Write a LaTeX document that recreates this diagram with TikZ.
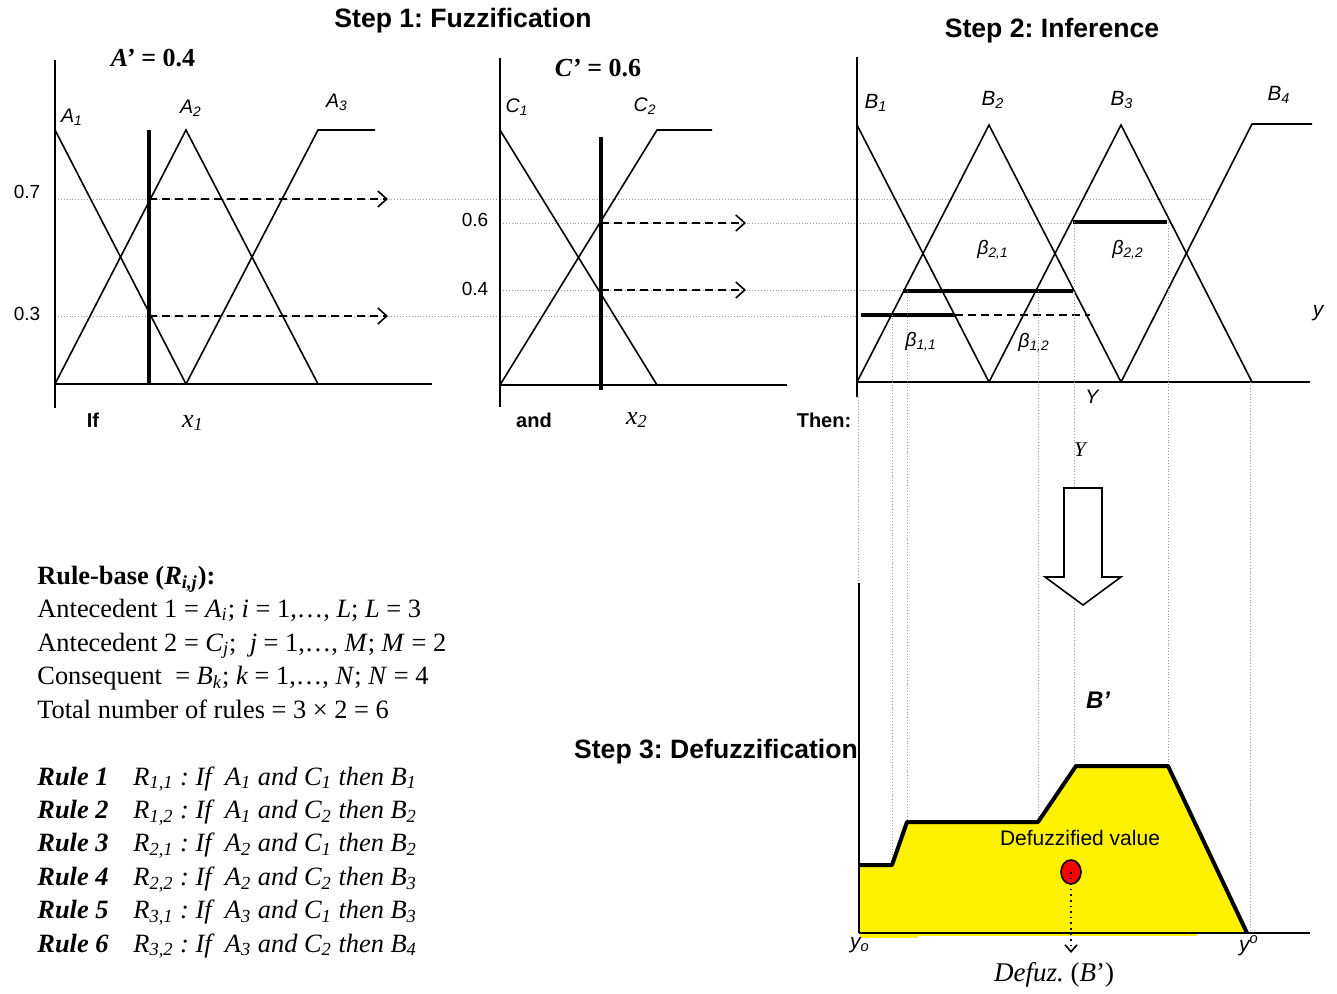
\documentclass[tikz,border=0pt]{standalone}
\usepackage{fontspec}
\setmainfont{Liberation Serif}
\setsansfont{Liberation Sans}
\usetikzlibrary{arrows.meta, shapes.geometric}
\newcommand{\sbs}[1]{\textsubscript{#1}}
\frenchspacing

\begin{document}
\begin{tikzpicture}[x=0.5pt, y=-0.5pt,
      every node/.style={inner sep=0pt},
      mf/.style={line width=0.8pt},
      axisline/.style={line width=1pt},
      cutline/.style={line width=2pt},
      guide/.style={draw=gray!80, densely dotted, line width=0.45pt},
      fire/.style={dash pattern=on 4pt off 2.5pt, line width=0.8pt,
                   -{Straight Barb[length=4.5pt, width=8pt, line width=0.8pt]}},
      steptitle/.style={font=\sffamily\bfseries\fontsize{13.3}{16}\selectfont},
      setlabel/.style={font=\sffamily\itshape\fontsize{9.8}{11}\selectfont},
      ticklabel/.style={font=\sffamily\fontsize{9.5}{11}\selectfont},
      wordlabel/.style={font=\sffamily\bfseries\fontsize{10}{12}\selectfont},
      varlabel/.style={font=\itshape\fontsize{13}{15}\selectfont},
      inlabel/.style={font=\bfseries\fontsize{13}{15}\selectfont},
      rulebody/.style={font=\fontsize{13.2}{16}\selectfont, anchor=base west}]
    \useasboundingbox (0,0) rectangle (1337,994);

    % guide lines carrying the membership degrees across
    \draw[guide] (55,199) -- (1212,199);
    \draw[guide] (55,316) -- (858,316);
    \draw[guide] (500,223) -- (1073,223);
    \draw[guide] (500,290) -- (903,290);

    % antecedent 1
    \draw[axisline] (55,60) -- (55,408);
    \draw[axisline] (55,384) -- (432,384);
    \draw[mf] (55,130) -- (186,384);
    \draw[mf] (55,384) -- (186,130) -- (318,384);
    \draw[mf] (186,384) -- (318,130) -- (375,130);
    \draw[cutline] (149,130) -- (149,384);
    \draw[fire] (149,199) -- (388,199);
    \draw[fire] (149,316) -- (388,316);

    % antecedent 2
    \draw[axisline] (500,58) -- (500,407);
    \draw[axisline] (500,385) -- (787,385);
    \draw[mf] (500,130) -- (657,385);
    \draw[mf] (500,385) -- (657,130) -- (712,130);
    \draw[cutline] (601,137) -- (601,390);
    \draw[fire] (601,223) -- (746,223);
    \draw[fire] (601,290) -- (746,290);

    % consequent
    \draw[axisline] (857,57) -- (857,397);
    \draw[axisline] (857,382) -- (1310,382);
    \draw[mf] (857,125) -- (989,382);
    \draw[mf] (857,382) -- (989,125) -- (1121,382);
    \draw[mf] (989,382) -- (1121,125) -- (1252,382);
    \draw[mf] (1121,382) -- (1252,124) -- (1312,124);
    \draw[cutline] (861,315) -- (955,315);
    \draw[dash pattern=on 4pt off 2.5pt, line width=0.8pt] (955,315) -- (1090,315);
    \draw[cutline] (903,291) -- (1073,291);
    \draw[cutline] (1073,222) -- (1167,222);

    % projections down to the aggregated set
    \draw[guide] (858,397) -- (858,583);
    \draw[guide] (892,315) -- (892,865);
    \draw[guide] (907,291) -- (907,822);
    \draw[guide] (1038,291) -- (1038,822);
    \draw[guide] (1074,222) -- (1074,766);
    \draw[guide] (1168,222) -- (1168,766);
    \draw[guide] (1250,382) -- (1250,933);

    % hollow arrow
    \draw[line width=0.8pt, fill=white] (1064,488) -- (1102,488) -- (1102,577) -- (1121,577)
      -- (1083,605) -- (1045,577) -- (1064,577) -- cycle;

    % aggregated output B'
    \fill[yellow] (859,933) -- (859,865) -- (892,865) -- (907,822) -- (1038,822)
      -- (1076,766) -- (1168,766) -- (1247,933) -- cycle;
    \fill[yellow] (860,933) rectangle (918,938);
    \fill[yellow] (918,933) rectangle (1197,936);
    \draw[axisline, line width=1.2pt] (859,583) -- (859,933);
    \draw[axisline] (859,933) -- (1310,933);
    \draw[line width=2pt, line join=round] (859,865) -- (892,865) -- (907,822) -- (1038,822)
      -- (1076,766) -- (1168,766) -- (1247,933);
    \node[ellipse, draw, fill=red, line width=0.8pt, minimum width=10pt, minimum height=12pt] (crisp) at (1071,872) {};
    \coordinate (crispfoot) at (1071,953);
    \draw[dotted, line width=0.8pt, -{Straight Barb[length=3.5pt, width=6pt, line width=0.8pt]}] (crisp.center) -- (crispfoot);

    % titles
    \node[steptitle] (step1) at (463,21) {Step 1: Fuzzification};
    \node[steptitle] (step2) at (1052,31) {Step 2: Inference};
    \node[steptitle] (step3) at (716,752) {Step 3: Defuzzification};
    \node[inlabel] (ain) at (153,58) {\textit{A’} = 0.4};
    \node[inlabel] (cin) at (598,68) {\textit{C’} = 0.6};

    % degree ticks
    \node[ticklabel] (t07) at (27,192) {0.7};
    \node[ticklabel] (t03) at (27,314) {0.3};
    \node[ticklabel] (t06) at (475,220) {0.6};
    \node[ticklabel] (t04) at (475,289) {0.4};

    % set names
    \node[setlabel] (la1) at (72,117) {A\sbs{1}};
    \node[setlabel] (la2) at (191,108) {A\sbs{2}};
    \node[setlabel] (la3) at (337,102) {A\sbs{3}};
    \node[setlabel] (lc1) at (517,107) {C\sbs{1}};
    \node[setlabel] (lc2) at (645,106) {C\sbs{2}};
    \node[setlabel, font=\sffamily\itshape\fontsize{10.3}{12}\selectfont] (lb1) at (876,103) {B\sbs{1}};
    \node[setlabel, font=\sffamily\itshape\fontsize{10.3}{12}\selectfont] (lb2) at (993,100) {B\sbs{2}};
    \node[setlabel, font=\sffamily\itshape\fontsize{10.3}{12}\selectfont] (lb3) at (1122,100) {B\sbs{3}};
    \node[setlabel, font=\sffamily\itshape\fontsize{10.3}{12}\selectfont] (lb4) at (1279,95) {B\sbs{4}};
    \node[setlabel] (b21) at (993,250) {β\sbs{2,1}};
    \node[setlabel] (b22) at (1128,250) {β\sbs{2,2}};
    \node[setlabel] (b11) at (921,342) {β\sbs{1,1}};
    \node[setlabel] (b12) at (1034,343) {β\sbs{1,2}};
    \node[setlabel, font=\sffamily\itshape\fontsize{10.5}{12}\selectfont] (ly) at (1318,313) {y};
    \node[setlabel] (lY) at (1092,397) {Y};
    \node[font=\itshape\fontsize{10.5}{12}\selectfont] (lYs) at (1080,450) {Y};

    % words under the axes
    \node[wordlabel] (wif) at (93,420) {If};
    \node[varlabel] (x1) at (193,423) {x\sbs{1}};
    \node[wordlabel] (wand) at (534,420) {and};
    \node[varlabel] (x2) at (637,420) {x\sbs{2}};
    \node[wordlabel] (wthen) at (824,420) {Then:};

    % output labels
    \node[font=\sffamily\bfseries\itshape\fontsize{12}{14}\selectfont] (bout) at (1098,700) {B’};
    \node[font=\sffamily\fontsize{10.5}{12}\selectfont] (dval) at (1080,838) {Defuzzified value};
    \node[setlabel, font=\sffamily\itshape\fontsize{10.5}{12}\selectfont] (ylo) at (860,945) {y\sbs{o}};
    \node[setlabel, font=\sffamily\itshape\fontsize{10.5}{12}\selectfont] (yhi) at (1249,946) {y\textsuperscript{o}};
    \node[font=\fontsize{13.5}{16}\selectfont] (defuz) at (1054,975) {\textit{Defuz.} (\textit{B}’)};

    % rule base
    \node[rulebody] (rbhead) at (37,584) {\textbf{Rule-base (\textit{R\sbs{i,j}}):}};
    \node[rulebody] (ante1) at (37,617) {Antecedent 1 = \textit{A\sbs{i}}; \textit{i} = 1,…, \textit{L}; \textit{L} = 3};
    \node[rulebody] (ante2) at (37,651) {Antecedent 2 = \textit{C\sbs{j}};\ \ \textit{j} = 1,…, \textit{M}; \textit{M} = 2};
    \node[rulebody] (conseq) at (37,684) {Consequent\ \ = \textit{B\sbs{k}}; \textit{k} = 1,…, \textit{N}; \textit{N} = 4};
    \node[rulebody] (total) at (37,718) {Total number of rules = 3 × 2 = 6};
    \foreach \k/\i/\j/\b in {1/1/1/1, 2/1/2/2, 3/2/1/2, 4/2/2/3, 5/3/1/3, 6/3/2/4} {
      \pgfmathsetmacro{\ry}{785+33.4*(\k-1)}
      \node[rulebody] (rule\k) at (37,\ry) {\textbf{\textit{Rule \k}}};
      \node[rulebody] (rtext\k) at (133,\ry) {\textit{R\sbs{\i,\j} : If\ \ A\sbs{\i} and C\sbs{\j} then B\sbs{\b}}};
    }
  \end{tikzpicture}
\end{document}
